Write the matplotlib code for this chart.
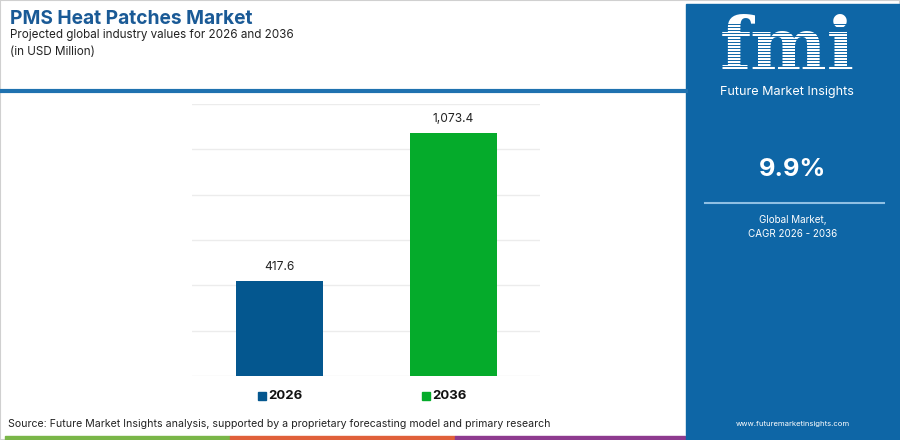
import matplotlib.pyplot as plt
from matplotlib.patches import Rectangle
from matplotlib.lines import Line2D

plt.rcParams['font.family'] = ['Inter', 'DejaVu Sans']

years = ['2026', '2036']
values = [417.6, 1073.4]
value_labels = ['417.6', '1,073.4']
bar_colors = ['#04578f', '#05ab2b']
cagr_text = '9.9%'

fig = plt.figure(figsize=(9, 4.4), dpi=100)
W, H = 900.0, 440.0

def fx(px):
    return px / W

def fy(py):
    return 1 - py / H

# light frame round the figure
fig.patches.append(Rectangle((0, 0), 1, 1, transform=fig.transFigure, fill=False,
                             edgecolor='#d0d0d0', linewidth=1.5))

# titles
fig.text(fx(10), fy(19), 'PMS Heat Patches Market', fontsize=13.8, weight='bold',
         color='#1a5a96', va='center', ha='left')
fig.text(fx(10), fy(35), 'Projected global industry values for 2026 and 2036',
         fontsize=8.4, color='#222222', va='center', ha='left')
fig.text(fx(10), fy(52), '(in USD Million)', fontsize=8.4, color='#222222',
         va='center', ha='left')

# blue separator line
fig.add_artist(Line2D([0, fx(686)], [fy(91), fy(91)], transform=fig.transFigure,
                      color='#1f72b0', linewidth=3))

# bars
ax = fig.add_axes([fx(192), fy(376), fx(540) - fx(192), fy(104) - fy(376)])
x = range(len(years))
ax.bar(x, values, width=0.5, color=bar_colors, zorder=3)
for xi, v, lab in zip(x, values, value_labels):
    ax.text(xi, v + 35, lab, ha='center', va='bottom', fontsize=8.6, color='#222222')
ax.set_xlim(-0.5, 1.5)
ax.set_ylim(0, 1200)
ax.set_yticks(range(0, 1201, 200))
ax.yaxis.grid(True, color='#ececec', linewidth=1)
ax.set_axisbelow(True)
for s in ax.spines.values():
    s.set_visible(False)
ax.tick_params(left=False, bottom=False, labelleft=False, labelbottom=False)

# legend
leg_x = [258, 422]
for lx, yr, c in zip(leg_x, years, bar_colors):
    fig.patches.append(Rectangle((fx(lx), fy(400)), fx(8), 8 / H, transform=fig.transFigure,
                                 color=c))
    fig.text(fx(lx + 10), fy(396), yr, fontsize=9.5, weight='bold', color='#111111',
             va='center', ha='left')

# source
fig.text(fx(8), fy(424), 'Source: Future Market Insights analysis, supported by a proprietary '
         'forecasting model and primary research', fontsize=7.6, color='#222222',
         va='center', ha='left')

# bottom colour strip
strip = [(5, 230, '#7ab648'), (230, 455, '#e0603a'), (455, 685, '#8e3b8f')]
for a, b, c in strip:
    fig.patches.append(Rectangle((fx(a), 0), fx(b - a), 4 / H, transform=fig.transFigure,
                                 color=c))

# right panel
panel_c = '#0e66a6'
fig.patches.append(Rectangle((fx(686), 0), fx(214), fy(4), transform=fig.transFigure,
                             color=panel_c))
fig.text(fx(787), fy(50), 'fmi', fontsize=52, weight='bold', family=['DejaVu Serif'],
         color='white', va='center', ha='center')
# striped look of the logo
for sy in range(24, 77, 3):
    fig.add_artist(Line2D([fx(712), fx(862)], [fy(sy), fy(sy)], transform=fig.transFigure,
                          color=panel_c, linewidth=0.7, zorder=5))
fig.text(fx(787), fy(92), 'Future Market Insights', fontsize=9.1, color='white',
         va='center', ha='center')
fig.text(fx(793), fy(170), cagr_text, fontsize=18.3, weight='bold', color='white',
         va='center', ha='center')
fig.add_artist(Line2D([fx(705), fx(884)], [fy(203), fy(203)], transform=fig.transFigure,
                      color='#8fc0e4', linewidth=1.5))
fig.text(fx(793), fy(220), 'Global Market,', fontsize=7.1, color='white',
         va='center', ha='center')
fig.text(fx(793), fy(234), 'CAGR 2026 - 2036', fontsize=7.1, color='white',
         va='center', ha='center')
fig.text(fx(793), fy(424), 'www.futuremarketinsights.com', fontsize=5.5, color='white',
         va='center', ha='center')

plt.savefig('out.png', dpi=100)
